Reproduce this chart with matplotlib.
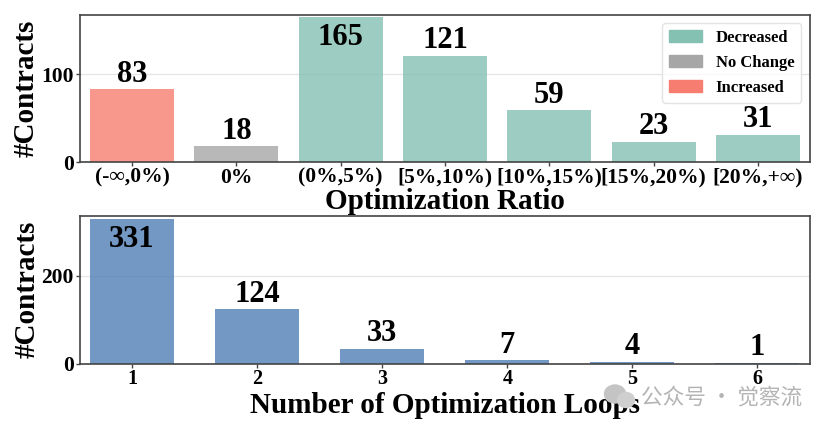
import matplotlib
matplotlib.use("Agg")
import matplotlib.pyplot as plt
from matplotlib.patches import Patch, Ellipse

plt.rcParams['font.family'] = ['Liberation Serif', 'DejaVu Sans']
plt.rcParams['font.weight'] = 'bold'
plt.rcParams['mathtext.fontset'] = 'stix'

ratio_labels = ['(-∞,0%)', '0%', '(0%,5%)', '[5%,10%)', '[10%,15%)', '[15%,20%)', '[20%,+∞)']
ratio_values = [83, 18, 165, 121, 59, 23, 31]
ratio_colors = ['#F77D70', '#A6A6A6', '#85C1B3', '#85C1B3', '#85C1B3', '#85C1B3', '#85C1B3']
legend_labels = ['Decreased', 'No Change', 'Increased']
legend_colors = ['#85C1B3', '#A6A6A6', '#F77D70']
loop_labels = ['1', '2', '3', '4', '5', '6']
loop_values = [331, 124, 33, 7, 4, 1]
loop_color = '#4F7FB5'

W, H = 826, 429
fig = plt.figure(figsize=(W / 100, H / 100), dpi=100)

def make_axes(l, t, r, b):
    return fig.add_axes([l / W, 1 - b / H, (r - l) / W, (b - t) / H])

def style(ax):
    for s in ax.spines.values():
        s.set_color('#444444')
        s.set_linewidth(1.2)
    ax.grid(axis='y', color='#E6E6E6', linewidth=1)
    ax.set_axisbelow(True)
    ax.tick_params(axis='both', labelsize=15.5, length=3, width=1, pad=1, color='#444444')
    ax.set_ylabel('#Contracts', fontsize=21, fontweight='bold', labelpad=1)

ax1 = make_axes(79.5, 15, 810, 162)
x1 = list(range(len(ratio_values)))
ax1.bar(x1, ratio_values, width=0.805, color=ratio_colors, alpha=0.8)
ax1.set_xlim(-0.505, 6.5)
ax1.set_ylim(0, 167.6)
ax1.set_yticks([0, 100])
ax1.set_xticks(x1)
ax1.set_xticklabels(ratio_labels)
style(ax1)
ax1.set_xlabel('Optimization Ratio', fontsize=21, fontweight='bold', labelpad=0.6)
for x, v in zip(x1, ratio_values):
    if v > 150:
        ax1.annotate(str(v), (x, v), xytext=(0, -4), textcoords='offset points',
                     ha='center', va='top', fontsize=22, fontweight='bold')
    else:
        ax1.annotate(str(v), (x, v), xytext=(0, 0.5), textcoords='offset points',
                     ha='center', va='bottom', fontsize=22, fontweight='bold')
handles = [Patch(color=c, label=l) for c, l in zip(legend_colors, legend_labels)]
leg = ax1.legend(handles=handles, loc='upper right', fontsize=12, frameon=True,
                 framealpha=0.8, edgecolor='#DDDDDD', handlelength=2.0,
                 bbox_to_anchor=(0.9877, 0.9456), borderaxespad=0, labelspacing=0.55)

ax2 = make_axes(79.5, 216, 810, 363.5)
x2 = list(range(len(loop_values)))
ax2.bar(x2, loop_values, width=0.672, color=loop_color, alpha=0.8)
ax2.set_xlim(-0.42, 5.42)
ax2.set_ylim(0, 337)
ax2.set_yticks([0, 200])
ax2.set_xticks(x2)
ax2.set_xticklabels(loop_labels)
style(ax2)
ax2.tick_params(axis='x', labelsize=14.5, pad=1)
ax2.set_xlabel('Number of Optimization Loops', fontsize=21, fontweight='bold', labelpad=2)
for x, v in zip(x2, loop_values):
    if v > 300:
        ax2.annotate(str(v), (x, v), xytext=(0, -4.5), textcoords='offset points',
                     ha='center', va='top', fontsize=22, fontweight='bold')
    else:
        ax2.annotate(str(v), (x, v), xytext=(0, 0.5), textcoords='offset points',
                     ha='center', va='bottom', fontsize=22, fontweight='bold')

# watermark
fig.text(641 / W, 1 - 398 / H, '公众号 · 觉察流', fontsize=15.6, color='#B4B4B4',
         family=['Noto Sans CJK SC', 'DejaVu Sans'], fontweight='normal', ha='left', va='center')
fig.add_artist(Ellipse((615 / W, 1 - 394 / H), 21 / W, 18 / H, color='#C4C4C4', transform=fig.transFigure, zorder=5))
fig.add_artist(Ellipse((626 / W, 1 - 400 / H), 17 / W, 15 / H, color='#CFCFCF', transform=fig.transFigure, zorder=5))

fig.savefig('out.png', dpi=100)
